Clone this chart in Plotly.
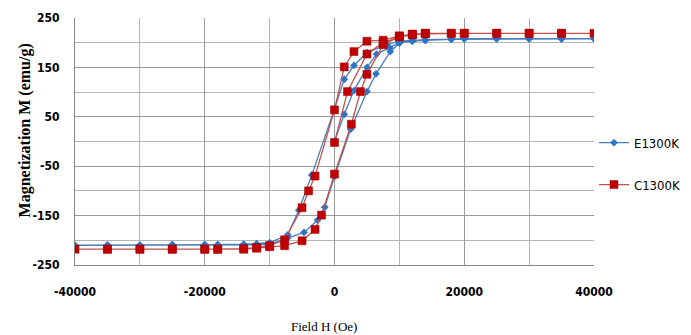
import plotly.graph_objects as go

# E1300K (blue) : initial curve, descending branch, ascending branch
e_field = [0, 1500, 3000, 5000, 6500, 8500, 10000, 12000, 14000, 18000, 20000, 25000, 30000, 35000, 40000,
           35000, 30000, 25000, 20000, 18000, 14000, 12000, 10000, 8000, 5000, 3000, 1500, 0,
           -3500, -5500, -7200, -10000, -12000, -14000, -18000, -20000, -25000, -30000, -35000, -40000,
           -35000, -30000, -25000, -20000, -18000, -14000, -12000, -10000, -7200, -4700, -2600, -1500, 0,
           2500, 5000, 6400, 8600, 10000, 12000, 14000]
e_mag = [0, 55, 103, 150, 177, 190, 200, 203, 205, 207, 208, 208, 208, 208, 208,
         208, 208, 208, 208, 207, 206, 205, 203, 196, 180, 154, 126, 66,
         -68, -139, -189, -205, -207, -208, -209, -209, -209, -210, -210, -210,
         -210, -210, -209, -209, -209, -209, -209, -208, -195, -184, -159, -133, -71,
         25, 101, 137, 182, 199, 203, 205]

# C1300K (red)
c_field = [0, 2000, 5000, 7500, 10000, 12000, 14000, 18000, 20000, 25000, 30000, 35000, 40000,
           35000, 30000, 25000, 20000, 18000, 14000, 12000, 10000, 7500, 5000, 3000, 1500, 0,
           -3000, -4000, -5000, -7700, -10000, -12000, -14000, -18000, -20000, -25000, -30000, -35000, -40000,
           -35000, -30000, -25000, -20000, -18000, -14000, -12000, -10000, -7700, -5000, -3000, -2000, 0,
           2600, 4000, 5000, 7500, 10000, 12000, 14000]
c_mag = [-2, 101, 177, 200, 212, 216, 218, 219, 219, 219, 219, 219, 219,
         219, 219, 219, 219, 219, 219, 217, 214, 205, 203, 182, 151, 64,
         -70, -100, -134, -199, -211, -215, -217, -218, -218, -218, -218, -218, -218,
         -218, -218, -218, -218, -218, -218, -216, -213, -211, -201, -178, -149, -66,
         35, 101, 136, 196, 212, 217, 219]

x_ticks = [-40000, -20000, 0, 20000, 40000]
y_ticks = [-250, -150, -50, 50, 150, 250]

fig = go.Figure()
fig.add_trace(go.Scatter(
    x=e_field, y=e_mag, name="E1300K", mode="lines+markers",
    line=dict(color="#4A7EBB", width=1.3),
    marker=dict(symbol="diamond", size=6, color="#2E75C8"),
    legendgroup="e"))
fig.add_trace(go.Scatter(
    x=c_field, y=c_mag, name="C1300K", mode="lines+markers",
    line=dict(color="#C0504D", width=1.3),
    marker=dict(symbol="square", size=8, color="#C00000", line=dict(color="#A00000", width=0.5)),
    legendgroup="c"))

narrow = "Liberation Sans Narrow, Arial Narrow, DejaVu Sans Condensed, Liberation Sans"
tick_font = dict(family=narrow, size=12, color="#000000", weight="bold")
serif = "Liberation Serif, Times New Roman"

fig.update_layout(
    width=691, height=335,
    margin=dict(l=75, r=97, t=18, b=70, autoexpand=False),
    paper_bgcolor="white", plot_bgcolor="white",
    showlegend=True,
    legend=dict(x=1.0, y=0.41, xanchor="left", yanchor="middle",
                font=dict(family=narrow, size=13, color="#000"),
                tracegroupgap=22, itemwidth=30, bgcolor="rgba(0,0,0,0)"),
    xaxis=dict(range=[-40000, 40000], tickvals=x_ticks, ticktext=[str(v) for v in x_ticks],
               tickfont=tick_font, showgrid=True, gridcolor="#9A9A9A", gridwidth=1,
               minor=dict(dtick=10000, tick0=0, showgrid=True, gridcolor="#B5B5B5", gridwidth=1),
               zeroline=False, showline=True, linecolor="#888888", mirror=False,
               ticks="", ticklabelstandoff=16, automargin=False),
    yaxis=dict(range=[-250, 250], tickvals=y_ticks, ticktext=[str(v) for v in y_ticks],
               tickfont=tick_font, showgrid=True, gridcolor="#9A9A9A", gridwidth=1,
               minor=dict(dtick=50, tick0=0, showgrid=True, gridcolor="#B5B5B5", gridwidth=1),
               zeroline=False, showline=True, linecolor="#888888",
               ticks="", ticklabelstandoff=12, automargin=False),
    annotations=[
        dict(text="Field H (Oe)", xref="paper", yref="paper", x=0.48, y=-0.25,
             xanchor="center", yanchor="middle", showarrow=False,
             font=dict(family=serif, size=13, color="#000")),
        dict(text="<b>Magnetization M (emu/g)</b>", xref="paper", yref="paper",
             x=-0.0963, y=0.545, xanchor="center", yanchor="middle", textangle=-90,
             showarrow=False, font=dict(family=serif, size=16, color="#000")),
    ],
)

fig.write_html(
    "out.html",
    config={"displayModeBar": False},
    post_script="document.body.style.margin='0';document.body.style.overflow='hidden';",
)
